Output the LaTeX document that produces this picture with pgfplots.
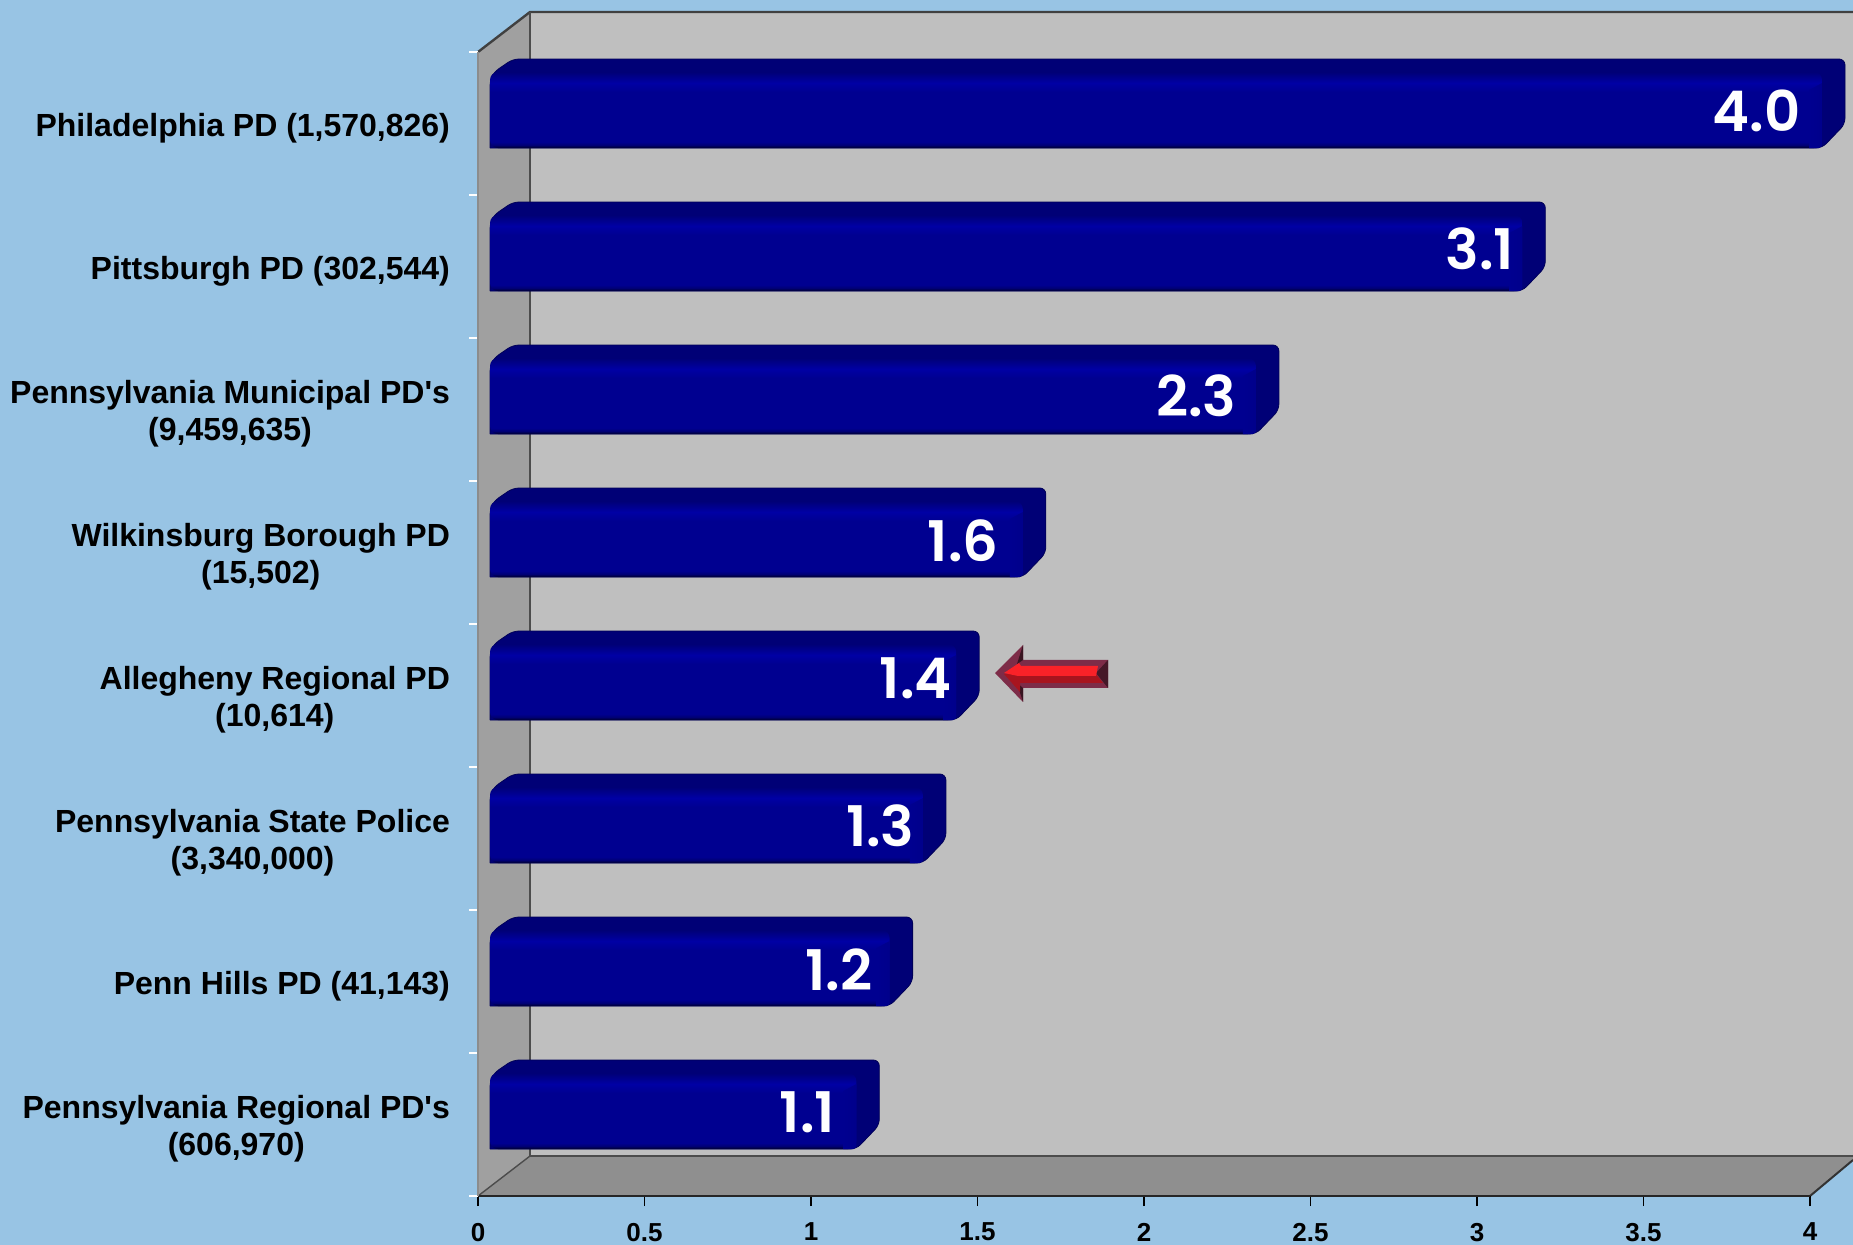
\documentclass[border=0pt]{standalone}
\usepackage{fontspec}
\usepackage{pgfplots}
\usepackage{pgfplotstable}
\pgfplotsset{compat=1.18}
\setmainfont{Liberation Sans}
\newfontfamily\valfont{Poppins SemiBold}
\definecolor{bgblue}{HTML}{98C4E4}
\definecolor{wallback}{HTML}{BFBFBF}
\definecolor{wallside}{HTML}{A0A0A0}
\definecolor{wallfloor}{HTML}{8F8F8F}
\definecolor{navyside}{HTML}{000076}
\definecolor{barfront}{HTML}{000090}
\definecolor{barbright}{HTML}{0000A4}
\pgfdeclareverticalshading{barface}{100bp}{
 color(0bp)=(black!60!navyside);
 color(25bp)=(black!60!navyside);
 color(27bp)=(navyside);
 color(29bp)=(barfront);
 color(61.8bp)=(barfront);
 color(67.8bp)=(barbright);
 color(75bp)=(navyside);
 color(100bp)=(navyside)}
% silhouette of a bar: k*value + dx (px), dy (px) from the bar's centre
\pgfplotstableread{
k dx dy
0 0 38
0 0 -30
0 4 -38
0 23 -51
1 23 -51
1 23 14
1 0 38
0 0 38
}\silhouette
\pgfplotstableread{
k dx dy
1 -13 -20
1 0 -27
1 0 36
1 -3 38
1 -13 38
}\sidestrip
\newcommand\BarBack[2]{%
 \addplot[draw=black!25!navyside,line width=.4pt,fill=navyside,rounded corners=3pt,forget plot]
 table[x expr={#1*\thisrow{k}+\thisrow{dx}/333},y expr={#2+\thisrow{dy}}]{\silhouette};}
% value, y of the bar's centre (px), label gap and label lift (px)
\newcommand\BarFront[4]{%
 \addplot[xbar,bar shift=0pt,bar width=38pt,draw=none,shade,shading=barface,rounded corners=4pt,forget plot,
 point meta=x,
 nodes near coords={\valfont\pgfmathprintnumber[fixed,fixed zerofill,precision=1,assume math mode=true]{\pgfplotspointmeta}},
 every node near coord/.append style={anchor=east,text=white,inner sep=0pt,
  font=\fontsize{28}{30}\selectfont,xshift=-#3*0.5pt,yshift=-#4*0.5pt},
 ] coordinates {(#1,#2)};
 \addplot[draw=none,left color=barfront,right color=barbright!85!black,forget plot]
 table[x expr={#1*\thisrow{k}+\thisrow{dx}/333},y expr={#2+\thisrow{dy}}]{\sidestrip};}
\begin{document}
\begin{tikzpicture}[x=0.5pt,y=-0.5pt]
\path[use as bounding box,clip] (0,0) rectangle (1853,1245);
\fill[bgblue] (0,0) rectangle (1853,1245);
% walls
\fill[wallback] (530,12) rectangle (1853,1156);
\fill[wallside] (478,52) -- (530,12) -- (530,1156) -- (478,1196) -- cycle;
\fill[wallfloor] (478,1196) -- (530,1156) -- (1853,1156) -- (1853,1160) -- (1810,1196) -- cycle;
\draw[black!75,line width=1.2pt] (478,52) -- (530,12) -- (1853,12);
\draw[black!70,line width=.8pt] (530,12) -- (530,1156) -- (1853,1156);
\draw[black!70,line width=.7pt] (478,1196) -- (530,1156);
\draw[black!80,line width=1pt] (1810,1196) -- (1853,1160);
\begin{axis}[
 at={(239pt,-598pt)},anchor=south west,scale only axis,width=666pt,height=572pt,
 xmin=0,xmax=4,ymin=0,ymax=8,y dir=reverse,clip=false,
 axis x line=bottom,axis y line=left,
 x axis line style={black!85,line width=1pt,-},
 y axis line style={black!45,line width=1pt,-},
 xtick={0,0.5,1,1.5,2,2.5,3,3.5,4},
 xticklabels={0,0.5,1,1.5,2,2.5,3,3.5,4},
 xtick style={black,line width=.7pt},
 tick align=outside,
 major tick length=5pt,
 xticklabel style={font=\fontsize{13}{14}\selectfont\bfseries,yshift=-5pt},
 ytick={0.5,1.5,2.5,3.5,4.5,5.5,6.5,7.5},
 yticklabels={{Philadelphia PD (1,570,826)},{Pittsburgh PD (302,544)},
  {Pennsylvania Municipal PD\textquotesingle s\\(9,459,635)},{Wilkinsburg Borough PD\\(15,502)},
  {Allegheny Regional PD\\(10,614)},{Pennsylvania State Police\\(3,340,000)},
  {Penn Hills PD (41,143)},{Pennsylvania Regional PD\textquotesingle s\\(606,970)}},
 yticklabel style={font=\fontsize{16}{18.5}\selectfont\bfseries,align=center,anchor=east,xshift=-5.5pt,yshift=-2.3pt},
 y tick style={draw=none},
 minor ytick={0,1,2,3,4,5,6,7,8},
 minor y tick style={draw=white,line width=.7pt},
 minor tick length=4.5pt,
]
\addplot[draw=none,forget plot] coordinates {(0,0)};
\end{axis}
\begin{axis}[
 at={(0pt,-622.5pt)},anchor=south west,scale only axis,width=926.5pt,height=622.5pt,
 xmin=-1.4715,xmax=4.0931,ymin=0,ymax=1245,y dir=reverse,hide axis,clip=false,
]
\BarBack{4.0}{110}\BarBack{3.1}{253}\BarBack{2.3}{396}\BarBack{1.6}{539}
\BarBack{1.4}{682}\BarBack{1.3}{825}\BarBack{1.2}{968}\BarBack{1.1}{1111}
\BarFront{4.0}{110}{21}{1}
\BarFront{3.1}{253}{8}{-4}
\BarFront{2.3}{396}{19}{0}
\BarFront{1.6}{539}{24}{2}
\BarFront{1.4}{682}{4}{-4}
\BarFront{1.3}{825}{8}{1}
\BarFront{1.2}{968}{17}{2}
\BarFront{1.1}{1111}{21}{1}
\end{axis}
% arrow
\definecolor{arrowedge}{HTML}{7D2C48}
\definecolor{arrowlow}{HTML}{A8141E}
\definecolor{arrowhi}{HTML}{FA2228}
\fill[arrowedge] (995,673) -- (1023,645) -- (1023,660) -- (1108,660) -- (1108,688) -- (1023,688) -- (1023,702) -- cycle;
\fill[black!55!arrowedge] (1023,645) -- (1023,660) -- (1017,664) -- cycle;
\fill[black!55!arrowedge] (1023,702) -- (1023,688) -- (1017,683) -- cycle;
\fill[black!45!arrowedge] (1108,660) -- (1108,688) -- (1096,673) -- cycle;
\fill[arrowlow] (1004,674) -- (1020,674) -- (1096,674) -- (1103,683) -- (1020,683) -- (1020,692) -- cycle;
\fill[arrowhi] (1004,673) -- (1019,663) -- (1021,666) -- (1098,666) -- (1096,676) -- (1018,676) -- cycle;
\end{tikzpicture}
\end{document}
